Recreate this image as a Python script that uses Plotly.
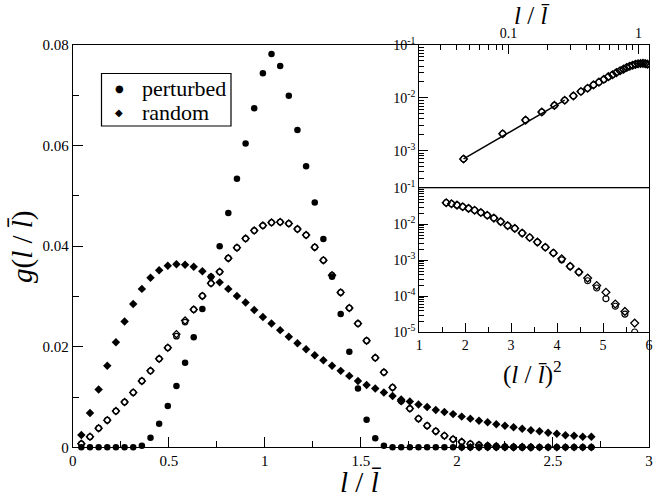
import plotly.graph_objects as go

# ---------------- data ----------------
# bin centres l / l_bar
x_vals = [0.045, 0.09, 0.135, 0.18, 0.225, 0.27, 0.315, 0.36, 0.405, 0.45,
          0.495, 0.54, 0.585, 0.63, 0.675, 0.72, 0.765, 0.81, 0.855, 0.9,
          0.945, 0.99, 1.035, 1.08, 1.125, 1.17, 1.215, 1.26, 1.305, 1.35,
          1.395, 1.44, 1.485, 1.53, 1.575, 1.62, 1.665, 1.71, 1.755, 1.8,
          1.845, 1.89, 1.935, 1.98, 2.025, 2.07, 2.115, 2.16, 2.205, 2.25,
          2.295, 2.34, 2.385, 2.43, 2.475, 2.52, 2.565, 2.61, 2.655, 2.7]

perturbed = [0, 0, 0, 0, 0, 0, 0, 0.0003, 0.0019, 0.0047,
             0.0082, 0.0122, 0.0168, 0.0219, 0.0275, 0.0339, 0.0400, 0.0466, 0.0534, 0.0604,
             0.0674, 0.0744, 0.0782, 0.0758, 0.0699, 0.0631, 0.0559, 0.0487, 0.0414, 0.0339,
             0.0265, 0.0190, 0.0117, 0.0055, 0.0018, 0.0003, 0, 0, 0, 0,
             0, 0, 0, 0, 0, 0, 0, 0, 0, 0,
             0, 0, 0, 0, 0, 0, 0, 0, 0, 0]

random_vals = [0.00245, 0.0068, 0.0115, 0.0162, 0.0209, 0.0250, 0.0285, 0.0315, 0.0337, 0.0352,
               0.0361, 0.0364, 0.0363, 0.0359, 0.0350, 0.0339, 0.0328, 0.0315, 0.0301, 0.0288,
               0.0273, 0.0259, 0.0246, 0.0233, 0.0220, 0.0207, 0.0195, 0.0183, 0.0173, 0.0162,
               0.0152, 0.0142, 0.0132, 0.0124, 0.0117, 0.0109, 0.0102, 0.0095, 0.0091, 0.0085,
               0.0080, 0.0074, 0.0070, 0.0066, 0.0061, 0.0057, 0.0053, 0.0050, 0.0046, 0.0043,
               0.0040, 0.0037, 0.0034, 0.0032, 0.0029, 0.0027, 0.0024, 0.0023, 0.0021, 0.0021]

# zero-level filled diamonds at the tail (bins 45..60)
tail_x = x_vals[44:]
tail_vals = [0] * len(tail_x)

open_diamond = [0.0007, 0.0021, 0.0038, 0.0054, 0.0072, 0.0090, 0.0109, 0.0132, 0.0152, 0.0176,
                0.0198, 0.0225, 0.0252, 0.0274, 0.0301, 0.0326, 0.0349, 0.0376, 0.0397, 0.0415,
                0.0431, 0.0441, 0.0447, 0.0448, 0.0445, 0.0434, 0.0422, 0.0398, 0.0372, 0.0342,
                0.0308, 0.0277, 0.0246, 0.0212, 0.0178, 0.0149, 0.0119, 0.0092, 0.0077, 0.0057,
                0.0043, 0.0032, 0.0023, 0.0016, 0.0011, 0.00068, 0.00047, 0.00032, 0.00020, 0.00013,
                0.000061, 0.000038, 0.000018]

open_circle = [0.0007, 0.0021, 0.0038, 0.0054, 0.0072, 0.0090, 0.0109, 0.0132, 0.0152, 0.0176,
               0.0198, 0.0221, 0.0249, 0.0274, 0.0301, 0.0326, 0.0349, 0.0376, 0.0397, 0.0415,
               0.0431, 0.0441, 0.0447, 0.0448, 0.0445, 0.0434, 0.0422, 0.0398, 0.0372, 0.0342,
               0.0308, 0.0277, 0.0246, 0.0212, 0.0178, 0.0149, 0.0119, 0.0092, 0.0077, 0.0057,
               0.0043, 0.0032, 0.0023, 0.0016, 0.00103, 0.00068, 0.00047, 0.00027, 0.00017, 0.000086,
               0.000053, 0.000032, 0.0000102]

# power-law fit shown in the upper inset
fit_x = [0.045, 0.27]
fit_amp = 0.0007      # value at x = 0.045
fit_exp = 1.43

legend_labels = ["perturbed", "random"]
legend_glyphs = ["\u25CF", "\u25C6"]

n_open = len(open_diamond)
x_open = x_vals[:n_open]

# upper inset: bins 1..26 on log-log ; lower inset: bins 28..53 vs (l/l_bar)^2
up_n = 26
low_start = 27

FONT = "Liberation Serif, Times New Roman, Tinos, DejaVu Serif, serif"
BLACK = "black"

fig = go.Figure()

# ---------- main plot ----------
fig.add_trace(go.Scatter(x=x_open, y=open_diamond, mode="markers", showlegend=False,
                         cliponaxis=False, xaxis="x", yaxis="y",
                         marker=dict(symbol="diamond-open", size=5.5, color=BLACK,
                                     line=dict(width=1.3, color=BLACK))))
fig.add_trace(go.Scatter(x=x_open, y=open_circle, mode="markers", showlegend=False,
                         cliponaxis=False, xaxis="x", yaxis="y",
                         marker=dict(symbol="circle-open", size=5.5, color=BLACK,
                                     line=dict(width=1.2, color=BLACK))))
fig.add_trace(go.Scatter(x=x_vals, y=random_vals, mode="markers", name=legend_labels[1],
                         showlegend=False, cliponaxis=False, xaxis="x", yaxis="y",
                         marker=dict(symbol="diamond", size=6.5, color=BLACK,
                                     line=dict(width=0))))
fig.add_trace(go.Scatter(x=x_vals, y=perturbed, mode="markers", name=legend_labels[0],
                         showlegend=False, cliponaxis=False, xaxis="x", yaxis="y",
                         marker=dict(symbol="circle", size=6.5, color=BLACK,
                                     line=dict(width=0))))
fig.add_trace(go.Scatter(x=tail_x, y=tail_vals, mode="markers", showlegend=False,
                         cliponaxis=False, xaxis="x", yaxis="y",
                         marker=dict(symbol="diamond", size=6.5, color=BLACK,
                                     line=dict(width=0))))

# ---------- upper inset (log-log) ----------
fig.add_trace(go.Scatter(x=x_open[:up_n], y=open_diamond[:up_n], mode="markers",
                         showlegend=False, xaxis="x2", yaxis="y2",
                         marker=dict(symbol="diamond-open", size=6, color=BLACK,
                                     line=dict(width=1.3, color=BLACK))))
fig.add_trace(go.Scatter(x=x_open[:up_n], y=open_circle[:up_n], mode="markers",
                         showlegend=False, xaxis="x2", yaxis="y2",
                         marker=dict(symbol="circle-open", size=6, color=BLACK,
                                     line=dict(width=1.2, color=BLACK))))
fit_y = [fit_amp * (v / fit_x[0]) ** fit_exp for v in fit_x]
fig.add_trace(go.Scatter(x=fit_x, y=fit_y, mode="lines", showlegend=False,
                         xaxis="x2", yaxis="y2", line=dict(color=BLACK, width=1.5)))

# ---------- lower inset (log y vs (l/l_bar)^2) ----------
x_sq = [v * v for v in x_open[low_start:]]
fig.add_trace(go.Scatter(x=x_sq, y=open_diamond[low_start:], mode="markers",
                         showlegend=False, xaxis="x3", yaxis="y3",
                         marker=dict(symbol="diamond-open", size=6, color=BLACK,
                                     line=dict(width=1.3, color=BLACK))))
fig.add_trace(go.Scatter(x=x_sq, y=open_circle[low_start:], mode="markers",
                         showlegend=False, xaxis="x3", yaxis="y3",
                         marker=dict(symbol="circle-open", size=6, color=BLACK,
                                     line=dict(width=1.2, color=BLACK))))

W, H = 654, 498


def px_x(p):
    return p / W


def px_y(p):
    return 1 - p / H


main_l, main_r, main_t, main_b = 72.7, 649.0, 45.0, 447.3
ins_l, ins_r = 419.2, 649.0
ins1_t, ins_mid, ins2_b = 45.0, 188.3, 332.3

axis_common = dict(showline=True, linecolor=BLACK, linewidth=1, mirror=True,
                   ticks="inside", tickcolor=BLACK, tickwidth=1, showgrid=False,
                   zeroline=False, automargin=False, ticklabeloverflow="allow")

minor_up_x = [m * 10 ** e for e in (-2, -1) for m in range(2, 10)]
minor_up_y = [m * 10 ** e for e in (-4, -3, -2) for m in range(2, 10) if m * 10 ** e > 1.95e-4]
minor_low_y = [m * 10 ** e for e in (-5, -4, -3, -2) for m in range(2, 10)]


def sup(e):
    return "10<sup>-%d</sup>" % e


tf_main = dict(family=FONT, size=15, color=BLACK)
tf_ins = dict(family=FONT, size=14, color=BLACK)

fig.update_layout(
    template="none",
    width=W, height=H, autosize=False,
    margin=dict(l=0, r=0, t=0, b=0, pad=0),
    paper_bgcolor="white", plot_bgcolor="white",
    font=dict(family=FONT, color=BLACK, size=15),
    showlegend=False,
    xaxis=dict(domain=[px_x(main_l), px_x(main_r)], anchor="y", range=[0, 3],
               tick0=0, dtick=0.5, ticklen=10, tickfont=tf_main,
               minor=dict(ticks="inside", dtick=0.25, ticklen=6, tickcolor=BLACK),
               **axis_common),
    yaxis=dict(domain=[px_y(main_b), px_y(main_t)], anchor="x", range=[0, 0.08],
               tick0=0, dtick=0.02, ticklen=10, tickfont=tf_main,
               minor=dict(ticks="inside", dtick=0.01, ticklen=6, tickcolor=BLACK),
               **axis_common),
    xaxis2=dict(domain=[px_x(ins_l), px_x(ins_r)], anchor="y2", type="log",
                range=[-1.688, 0.08], side="top",
                tickmode="array", tickvals=[0.1, 1], ticktext=["0.1", "1"],
                ticklen=9, tickfont=tf_ins,
                minor=dict(ticks="inside", tickmode="array", tickvals=minor_up_x,
                           ticklen=5, tickcolor=BLACK),
                **axis_common),
    yaxis2=dict(domain=[px_y(ins_mid), px_y(ins1_t)], anchor="x2", type="log",
                range=[-3.71, -1],
                tickmode="array", tickvals=[1e-3, 1e-2, 1e-1],
                ticktext=[sup(3), sup(2), sup(1)],
                ticklen=9, tickfont=tf_ins,
                minor=dict(ticks="inside", tickmode="array", tickvals=minor_up_y,
                           ticklen=5, tickcolor=BLACK),
                **axis_common),
    xaxis3=dict(domain=[px_x(ins_l), px_x(ins_r)], anchor="y3", range=[1, 6],
                tick0=1, dtick=1, ticklen=9, tickfont=tf_ins,
                minor=dict(ticks="inside", dtick=0.5, ticklen=5, tickcolor=BLACK),
                **axis_common),
    yaxis3=dict(domain=[px_y(ins2_b), px_y(ins_mid)], anchor="x3", type="log",
                range=[-5, -1],
                tickmode="array", tickvals=[1e-5, 1e-4, 1e-3, 1e-2, 1e-1],
                ticktext=[sup(5), sup(4), sup(3), sup(2), sup(1)],
                ticklen=9, tickfont=tf_ins,
                minor=dict(ticks="inside", tickmode="array", tickvals=minor_low_y,
                           ticklen=5, tickcolor=BLACK),
                **axis_common),
)

# ---------- legend box (drawn as box + glyph + label) ----------
fig.add_shape(type="rect", xref="paper", yref="paper",
              x0=px_x(101.5), x1=px_x(231), y0=px_y(126), y1=px_y(73.5),
              line=dict(color=BLACK, width=1.2), fillcolor="white", layer="above")
row_glyph_y = [88.3, 112.0]
row_text_y = [88.5, 112.0]
for lab, gl, gy, ty in zip(legend_labels, legend_glyphs, row_glyph_y, row_text_y):
    fig.add_annotation(x=px_x(119.3), y=px_y(gy), xref="paper", yref="paper",
                       text=gl, showarrow=False, xanchor="center", yanchor="middle",
                       font=dict(family="DejaVu Sans", size=10, color=BLACK))
    fig.add_annotation(x=px_x(139.5), y=px_y(ty), xref="paper", yref="paper",
                       text=lab, showarrow=False, xanchor="left", yanchor="middle",
                       font=dict(family=FONT, size=22, color=BLACK))

# ---------- axis titles ----------
lbar = "<i>l\u0304</i>"
ann_font = dict(family=FONT, color=BLACK)
ann_common = dict(xref="paper", yref="paper", showarrow=False,
                  xanchor="center", yanchor="middle")
fig.add_annotation(x=px_x(361), y=px_y(482), text="<i>l</i> / " + lbar,
                   font=dict(size=29, **ann_font), **ann_common)
fig.add_annotation(x=px_x(23), y=px_y(247), text="<i>g</i>(<i>l</i> / " + lbar + ")",
                   textangle=-90, font=dict(size=29, **ann_font), **ann_common)
fig.add_annotation(x=px_x(532), y=px_y(15), text="<i>l</i> / " + lbar,
                   font=dict(size=25, **ann_font), **ann_common)
fig.add_annotation(x=px_x(532), y=px_y(372), text="(<i>l</i> / " + lbar + ")<sup>2</sup>",
                   font=dict(size=25, **ann_font), **ann_common)

fig.write_html("out.html", config={"displayModeBar": False},
               post_script="document.body.style.margin='0px';")
